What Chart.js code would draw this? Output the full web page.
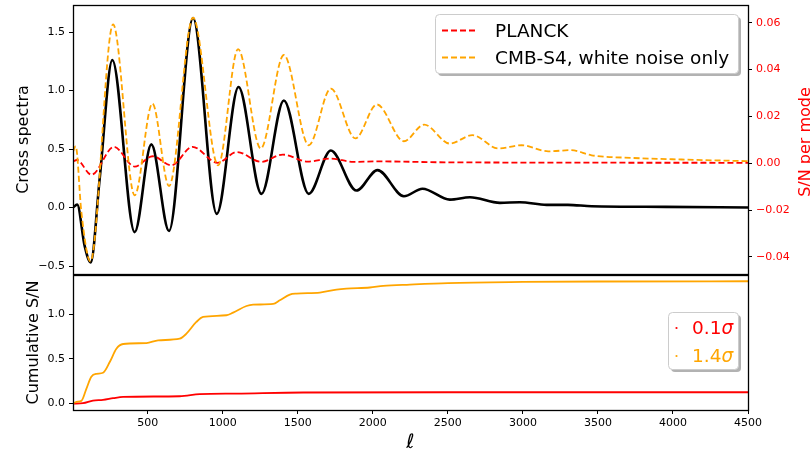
<!DOCTYPE html>
<html>
<head>
<meta charset="utf-8">
<script src="https://cdn.jsdelivr.net/npm/chart.js@4.4.1/dist/chart.umd.min.js"></script>
<style>
    html, body { margin: 0; padding: 0; background: #fff; }
    #wrap { position: relative; width: 810px; height: 454px; overflow: hidden; }
    canvas { position: absolute; left: 0; }
    #chartTop { top: 0; }
    #chartBottom { top: 274px; }
</style>
</head>
<body>
<div id="wrap">
    <canvas id="chartTop" width="810" height="275"></canvas>
    <canvas id="chartBottom" width="810" height="180"></canvas>
</div>
<script>
// Dados (ℓ, valor)
const xTicks = [500, 1000, 1500, 2000, 2500, 3000, 3500, 4000, 4500];
const crossTicks = [-0.5, 0.0, 0.5, 1.0, 1.5];
const snTicks = [-0.04, -0.02, 0.0, 0.02, 0.04, 0.06];
const cumTicks = [0.0, 0.5, 1.0];

// Espectro cruzado (linha preta, eixo esquerdo)
const crossEll = [2, 30, 80, 120, 180, 264, 413, 524, 642, 802, 960, 1105, 1258, 1407, 1573, 1720, 1891, 2031, 2207, 2331, 2513, 2647, 2847, 2980, 3158, 3300, 3458, 3950, 4500];
const crossVal = [0.0, 0.025, -0.33, -0.47, 0.25, 1.26, -0.21, 0.54, -0.20, 1.62, -0.054, 1.03, 0.117, 0.915, 0.117, 0.487, 0.145, 0.32, 0.097, 0.16, 0.068, 0.088, 0.04, 0.045, 0.023, 0.023, 0.011, 0.006, 0.0];

// S/N por modo - PLANCK (eixo direito)
const planckEll = [2, 28, 125, 275, 413, 533, 658, 798, 965, 1095, 1256, 1400, 1565, 1720, 1871, 2030, 2500, 4500];
const planckVal = [0.0008, 0.0014, -0.0049, 0.007, -0.0014, 0.003, -0.0009, 0.007, 0.0002, 0.0048, 0.0006, 0.0037, 0.0007, 0.002, 0.0006, 0.0008, 0.0004, 0.0002];

// S/N por modo - CMB-S4 (eixo direito)
const s4Ell = [2, 20, 58, 118, 269, 413, 531, 642, 802, 969, 1102, 1253, 1407, 1573, 1720, 1884, 2027, 2207, 2342, 2513, 2664, 2836, 2991, 3169, 3320, 3458, 3724, 4058, 4500];
const s4Val = [0.005, 0.0073, -0.021, -0.0419, 0.0593, -0.0137, 0.0255, -0.0097, 0.0621, -0.0009, 0.0487, 0.0063, 0.0462, 0.0077, 0.0319, 0.0106, 0.0251, 0.0094, 0.0165, 0.0084, 0.012, 0.0063, 0.0077, 0.0051, 0.0056, 0.0034, 0.0023, 0.0016, 0.0009];

// S/N cumulativo
const cumS4Ell = [2, 24, 58, 91, 124, 158, 202, 247, 291, 336, 491, 569, 713, 758, 824, 869, 1024, 1069, 1158, 1202, 1336, 1380, 1447, 1491, 1647, 1758, 1824, 1980, 2069, 2247, 2500, 3000, 3500, 4500];
const cumS4Val = [0.0, 0.02, 0.03, 0.165, 0.30, 0.333, 0.345, 0.465, 0.614, 0.667, 0.678, 0.708, 0.727, 0.783, 0.914, 0.97, 0.989, 1.019, 1.093, 1.108, 1.116, 1.157, 1.221, 1.232, 1.243, 1.277, 1.288, 1.30, 1.318, 1.333, 1.350, 1.362, 1.367, 1.37];
const cumPlanckEll = [2, 69, 135, 202, 269, 336, 713, 847, 1091, 1536, 2500, 4500];
const cumPlanckVal = [0.0, 0.005, 0.034, 0.041, 0.06, 0.075, 0.082, 0.105, 0.112, 0.124, 0.127, 0.127];

const topLabels = ['PLANCK', 'CMB-S4, white noise only'];
const sigmaLabels = ['0.1', '1.4'];

Chart.defaults.font.family = '"DejaVu Sans", sans-serif';
Chart.defaults.color = '#000';

function toPoints(xs, ys) {
    return xs.map((x, i) => ({ x: x, y: ys[i] }));
}

// Formata com sinal de menos tipográfico
function fmtTick(value, decimals) {
    const s = Math.abs(value).toFixed(decimals);
    return value < -1e-12 ? '\u2212' + s : s;
}

// Fixa o tamanho do eixo para alinhar os dois painéis
function fixSize(size) {
    return function(scale) {
        if (scale.isHorizontal()) {
            scale.height = size;
        } else {
            scale.width = size;
        }
        scale.paddingTop = 0;
        scale.paddingBottom = 0;
        scale.paddingLeft = 0;
        scale.paddingRight = 0;
    };
}

function setTicks(list) {
    return function(scale) {
        scale.ticks = list.map(v => ({ value: v }));
    };
}

const tickFont = { size: 11 };
const gridOpts = { drawOnChartArea: false, drawTicks: true, tickLength: 4, color: '#000' };

// Moldura completa em volta de cada painel
const framePlugin = {
    id: 'frame',
    afterDatasetsDraw(chart) {
        const { ctx, chartArea: a } = chart;
        ctx.save();
        ctx.strokeStyle = '#000';
        ctx.lineWidth = 1.3;
        ctx.strokeRect(a.left + 0.5, a.top + 0.5, a.right - a.left, a.bottom - a.top);
        ctx.restore();
    }
};

function legendBox(ctx, x, y, w, h) {
    ctx.save();
    ctx.fillStyle = 'rgba(0, 0, 0, 0.3)';
    ctx.beginPath();
    ctx.roundRect(x + 3, y + 3, w, h, 4);
    ctx.fill();
    ctx.fillStyle = '#fff';
    ctx.strokeStyle = '#cccccc';
    ctx.lineWidth = 1;
    ctx.beginPath();
    ctx.roundRect(x + 0.5, y + 0.5, w, h, 4);
    ctx.fill();
    ctx.stroke();
    ctx.restore();
}

const topExtras = {
    id: 'topExtras',
    afterDraw(chart) {
        const { ctx, chartArea } = chart;
        // Título do eixo direito
        ctx.save();
        ctx.translate(810, 142);
        ctx.rotate(-Math.PI / 2);
        ctx.font = '16px "DejaVu Sans"';
        ctx.fillStyle = 'red';
        ctx.textAlign = 'center';
        ctx.textBaseline = 'alphabetic';
        ctx.fillText('S/N per mode', 0, 0);
        ctx.restore();

        // Legenda
        legendBox(ctx, 435, 14, 303, 59);
        const colors = ['red', 'orange'];
        const rows = [30, 57];
        ctx.save();
        ctx.font = '18.5px "DejaVu Sans"';
        ctx.textBaseline = 'alphabetic';
        ctx.fillStyle = '#000';
        topLabels.forEach((label, i) => {
            ctx.strokeStyle = colors[i];
            ctx.lineWidth = 1.8;
            ctx.setLineDash([6, 3]);
            ctx.beginPath();
            ctx.moveTo(442, rows[i] + 0.5);
            ctx.lineTo(478, rows[i] + 0.5);
            ctx.stroke();
            ctx.fillText(label, 495, rows[i] + 6.5);
        });
        ctx.restore();
    }
};

const bottomExtras = {
    id: 'bottomExtras',
    afterDraw(chart) {
        const { ctx } = chart;
        const oy = -274;
        legendBox(ctx, 668, 312 + oy, 70, 57);
        const colors = ['red', 'orange'];
        const rows = [334, 362];
        ctx.save();
        ctx.textBaseline = 'alphabetic';
        sigmaLabels.forEach((label, i) => {
            ctx.fillStyle = colors[i];
            ctx.beginPath();
            ctx.arc(676.5, rows[i] - 6 + oy, 1.1, 0, Math.PI * 2);
            ctx.fill();
            ctx.font = '18.5px "DejaVu Sans"';
            ctx.fillText(label, 692, rows[i] + oy);
            const w = ctx.measureText(label).width;
            ctx.font = 'italic 18.5px "DejaVu Sans"';
            ctx.fillText('\u03c3', 692 + w, rows[i] + oy);
        });
        ctx.restore();
    }
};

const lineBase = {
    pointRadius: 0,
    pointHoverRadius: 0,
    fill: false,
    cubicInterpolationMode: 'monotone'
};

// Painel superior
new Chart(document.getElementById('chartTop').getContext('2d'), {
    type: 'line',
    data: {
        datasets: [
            Object.assign({
                label: topLabels[1],
                data: toPoints(s4Ell, s4Val),
                yAxisID: 'y2',
                borderColor: 'orange',
                borderWidth: 1.8,
                borderDash: [6, 3]
            }, lineBase),
            Object.assign({
                label: topLabels[0],
                data: toPoints(planckEll, planckVal),
                yAxisID: 'y2',
                borderColor: 'red',
                borderWidth: 1.8,
                borderDash: [6, 3]
            }, lineBase),
            Object.assign({
                label: 'Cross spectra',
                data: toPoints(crossEll, crossVal),
                yAxisID: 'y',
                borderColor: '#000',
                borderWidth: 2.6
            }, lineBase)
        ]
    },
    options: {
        responsive: false,
        animation: false,
        devicePixelRatio: 1,
        layout: { padding: { top: 5, bottom: 1, left: 0, right: 0 } },
        plugins: { legend: { display: false }, tooltip: { enabled: false } },
        scales: {
            x: { type: 'linear', min: 2, max: 4500, display: false },
            y: {
                type: 'linear',
                position: 'left',
                min: -0.568,
                max: 1.731,
                afterFit: fixSize(73),
                afterBuildTicks: setTicks(crossTicks),
                grid: gridOpts,
                border: { display: false },
                ticks: { font: tickFont, padding: 4, color: '#000', callback: v => fmtTick(v, 1) },
                title: { display: true, text: 'Cross spectra', font: { size: 16 }, padding: { top: 14, bottom: 0 } }
            },
            y2: {
                type: 'linear',
                position: 'right',
                min: -0.04726,
                max: 0.06755,
                afterFit: fixSize(62),
                afterBuildTicks: setTicks(snTicks),
                grid: gridOpts,
                border: { display: false },
                ticks: { font: tickFont, padding: 4, color: 'red', callback: v => fmtTick(v, 2) }
            }
        }
    },
    plugins: [framePlugin, topExtras]
});

// Painel inferior
new Chart(document.getElementById('chartBottom').getContext('2d'), {
    type: 'line',
    data: {
        datasets: [
            Object.assign({
                label: sigmaLabels[1] + '\u03c3',
                data: toPoints(cumS4Ell, cumS4Val),
                borderColor: 'orange',
                borderWidth: 1.8
            }, lineBase),
            Object.assign({
                label: sigmaLabels[0] + '\u03c3',
                data: toPoints(cumPlanckEll, cumPlanckVal),
                borderColor: 'red',
                borderWidth: 1.8
            }, lineBase)
        ]
    },
    options: {
        responsive: false,
        animation: false,
        devicePixelRatio: 1,
        layout: { padding: { top: 1, bottom: 0, left: 0, right: 62 } },
        plugins: { legend: { display: false }, tooltip: { enabled: false } },
        scales: {
            x: {
                type: 'linear',
                min: 2,
                max: 4500,
                afterFit: fixSize(44),
                afterBuildTicks: setTicks(xTicks),
                grid: gridOpts,
                border: { display: false },
                ticks: { font: tickFont, padding: 3, color: '#000', maxRotation: 0, callback: v => String(v) },
                title: { display: true, text: '\u2113', font: { size: 20, style: 'italic', lineHeight: 1 }, padding: { top: 0, bottom: 1 } }
            },
            y: {
                type: 'linear',
                position: 'left',
                min: -0.072,
                max: 1.44,
                afterFit: fixSize(73),
                afterBuildTicks: setTicks(cumTicks),
                grid: gridOpts,
                border: { display: false },
                ticks: { font: tickFont, padding: 4, color: '#000', callback: v => fmtTick(v, 1) },
                title: { display: true, text: 'Cumulative S/N', font: { size: 16 }, padding: { top: 24, bottom: 0 } }
            }
        }
    },
    plugins: [framePlugin, bottomExtras]
});
</script>
</body>
</html>
